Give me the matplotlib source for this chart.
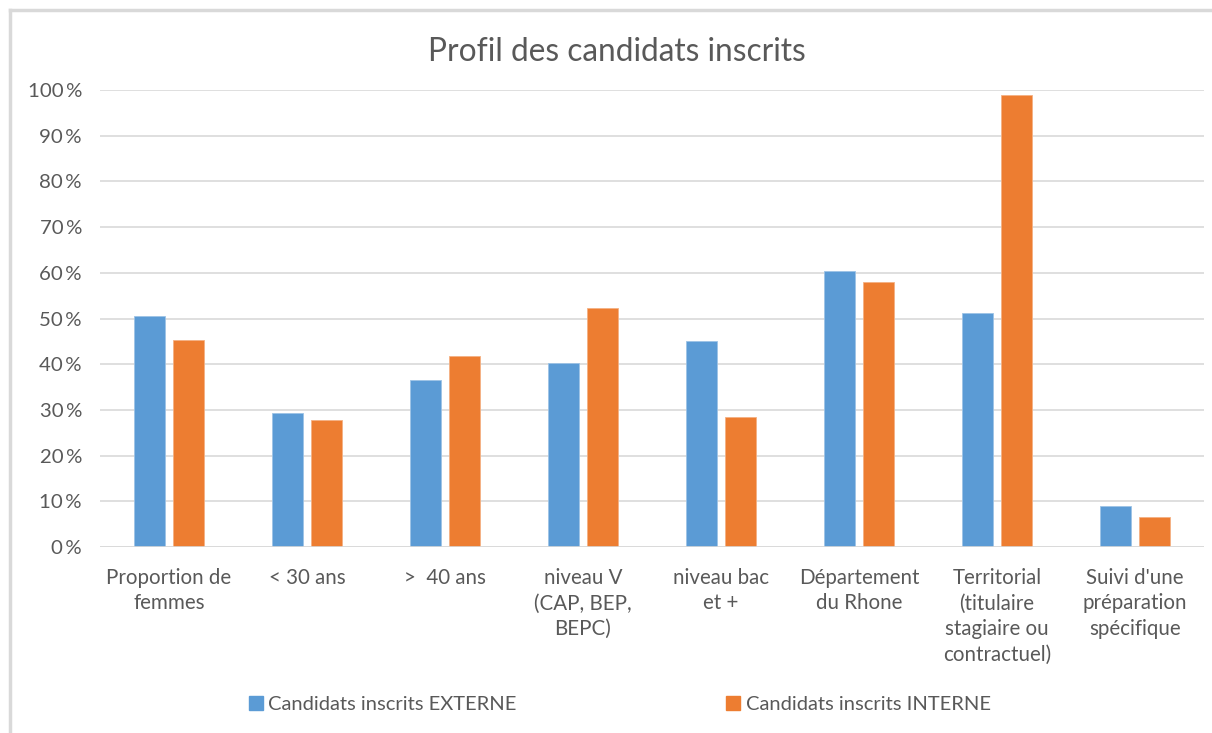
import matplotlib.pyplot as plt
import numpy as np
from matplotlib.lines import Line2D

categories = [
    "Proportion de\nfemmes",
    "< 30 ans",
    ">  40 ans",
    "niveau V\n(CAP, BEP,\nBEPC)",
    "niveau bac\net +",
    "Département\ndu Rhone",
    "Territorial\n(titulaire\nstagiaire ou\ncontractuel)",
    "Suivi d'une\npréparation\nspécifique",
]
externe = [50.6, 29.3, 36.6, 40.3, 45.0, 60.4, 51.2, 8.9]
interne = [45.4, 27.7, 41.8, 52.2, 28.5, 58.0, 98.8, 6.6]
series_names = ["Candidats inscrits EXTERNE", "Candidats inscrits INTERNE"]
yticks = list(range(0, 101, 10))

blue = "#5B9BD5"
orange = "#ED7D31"
txt = "#595959"
grid = "#D9D9D9"

plt.rcParams["font.family"] = ["Lato", "DejaVu Sans"]

fig = plt.figure(figsize=(12.12, 7.33), dpi=100)
ax = fig.add_axes([100 / 1212, 1 - 547 / 733, 1104 / 1212, 457 / 733])

x = np.arange(len(categories))
w = 0.225
off = 0.141
ax.bar(x - off, externe, w, color=blue, edgecolor="#9DC3E6", linewidth=0.6, zorder=3)
ax.bar(x + off, interne, w, color=orange, edgecolor="#F4B183", linewidth=0.6, zorder=3)

ax.set_xlim(-0.5, len(categories) - 0.5)
ax.set_ylim(0, 100)
ax.set_yticks(yticks)
ax.set_yticklabels([f"{v}\u2009%" for v in yticks], color=txt, fontsize=14.7)
ax.set_xticks(x)
ax.set_xticklabels(categories, color=txt, fontsize=14.8, linespacing=1.35, va="top")
ax.tick_params(axis="both", length=0)
ax.tick_params(axis="x", pad=15)
ax.tick_params(axis="y", pad=13)
ax.yaxis.grid(True, color=grid, linewidth=1.2, zorder=0)
for s in ax.spines.values():
    s.set_visible(False)
ax.axhline(0, color=grid, linewidth=1.2, zorder=4)

fig.text(617 / 1212, 1 - 52 / 733, "Profil des candidats inscrits", ha="center", va="center",
         fontsize=22.8, color=txt)

handles = [Line2D([], [], marker="s", linestyle="none", markersize=10, color=c) for c in (blue, orange)]
fig.legend(handles, series_names, loc="center", bbox_to_anchor=(618 / 1212, 1 - 704 / 733),
           ncol=2, frameon=False, fontsize=14.5, labelcolor=txt, columnspacing=10.3,
           handletextpad=0.1, handlelength=1.0)

# outer chart border (top and left visible in the reference)
fig.add_artist(Line2D([10 / 1212, 1], [1 - 10 / 733, 1 - 10 / 733], color=grid, linewidth=2.5,
                      transform=fig.transFigure))
fig.add_artist(Line2D([10 / 1212, 10 / 1212], [0, 1 - 10 / 733], color=grid, linewidth=2.5,
                      transform=fig.transFigure))

fig.savefig("out.png", dpi=100, facecolor="white")
